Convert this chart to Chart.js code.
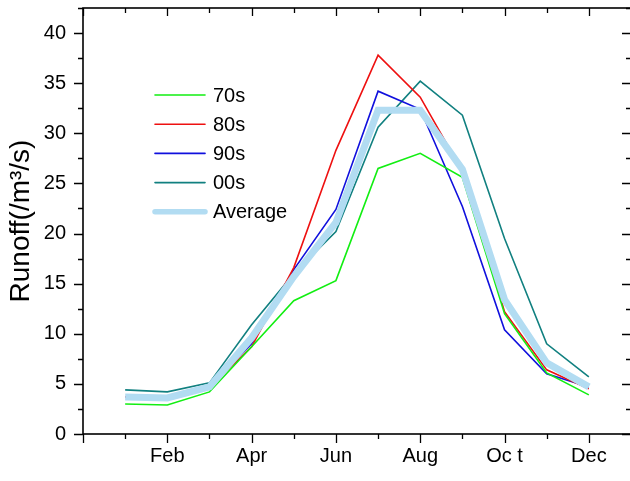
<!DOCTYPE html>
<html>
<head>
<meta charset="utf-8">
<script src="https://cdn.jsdelivr.net/npm/chart.js@4"></script>
<style>
html,body{margin:0;padding:0;overflow:hidden;background:#fff;width:630px;height:481px;}
#wrap{position:absolute;left:0;top:0;width:640px;height:481px;}
</style>
</head>
<body>
<div id="wrap"><canvas id="c" width="640" height="481"></canvas></div>
<script>
// ---- data ----
const months = ['Jan','Feb','Mar','Apr','May','Jun','Jul','Aug','Sep','Oc t','Nov','Dec'];
const monthIndex = [1,2,3,4,5,6,7,8,9,10,11,12];
const s70 = [3.0, 2.9, 4.2, 8.7, 13.3, 15.3, 26.5, 28.0, 25.6, 12.0, 6.1, 3.9];
const s80 = [3.7, 3.6, 4.6, 8.7, 16.6, 28.3, 37.8, 33.6, 26.2, 12.2, 6.4, 4.5];
const s90 = [3.7, 3.6, 4.7, 9.0, 16.4, 22.4, 34.2, 32.4, 22.7, 10.4, 6.0, 4.7];
const s00 = [4.4, 4.2, 5.1, 10.9, 16.0, 20.2, 30.6, 35.2, 31.8, 19.5, 9.0, 5.7];
const sAvg = [3.7, 3.6, 4.7, 9.6, 15.7, 21.1, 32.3, 32.3, 26.4, 13.4, 7.1, 4.7];
const yTicks = [0,5,10,15,20,25,30,35,40];

function pts(arr){ return arr.map((v,i)=>({x:monthIndex[i], y:v})); }

const FONT = '"Liberation Sans", Arial, sans-serif';

const framePlugin = {
  id:'frame',
  afterDraw(chart){
    const {ctx, chartArea:a, scales:{x,y}} = chart;
    ctx.save();
    ctx.strokeStyle='#000';
    ctx.lineWidth=1.6;
    ctx.strokeRect(a.left, a.top, a.right-a.left, a.bottom-a.top);
    ctx.lineWidth=1.3;
    ctx.beginPath();
    for(let i=0;i<=13;i++){
      const px = Math.round(x.getPixelForValue(i))+0.5;
      const L = (i%2===0)?9:5;
      const Lt = (i%2===0)?8:5;
      ctx.moveTo(px,a.bottom); ctx.lineTo(px,a.bottom+L);
      ctx.moveTo(px,a.top); ctx.lineTo(px,a.top+Lt);
    }
    for(let v=0; v<=42.5; v+=2.5){
      const py = Math.round(y.getPixelForValue(v))+0.5;
      const L = (v%5===0)?9:5;
      ctx.moveTo(a.left,py); ctx.lineTo(a.left-L,py);
      ctx.moveTo(a.right,py); ctx.lineTo(a.right-L,py);
    }
    ctx.stroke();
    // legend
    const lx = a.left+72, ly = a.top+87, rowH = 29.2;
    ctx.font = '20px '+FONT;
    ctx.textBaseline='middle';
    ctx.fillStyle='#000';
    chart.data.datasets.forEach((ds,i)=>{
      const yy = ly + i*rowH;
      ctx.strokeStyle = ds.borderColor;
      ctx.lineWidth = ds.legendWidth;
      ctx.lineCap = 'round';
      ctx.beginPath();
      ctx.moveTo(lx,yy); ctx.lineTo(lx+50,yy);
      ctx.stroke();
      ctx.fillText(ds.label, lx+58, yy+1);
    });
    ctx.restore();
  }
};

new Chart(document.getElementById('c'), {
  type:'line',
  data:{
    datasets:[
      {label:'70s', data:pts(s70), borderColor:'#12ee12', borderWidth:1.6, legendWidth:1.6, order:1},
      {label:'80s', data:pts(s80), borderColor:'#ee1010', borderWidth:1.6, legendWidth:1.6, order:1},
      {label:'90s', data:pts(s90), borderColor:'#1010dd', borderWidth:1.6, legendWidth:1.6, order:1},
      {label:'00s', data:pts(s00), borderColor:'#118080', borderWidth:1.6, legendWidth:1.6, order:1},
      {label:'Average', data:pts(sAvg), borderColor:'#b2dcf2', borderWidth:7, legendWidth:5.5, order:0}
    ]
  },
  options:{
    responsive:false,
    animation:false,
    devicePixelRatio:1,
    elements:{point:{radius:0}, line:{tension:0, borderJoinStyle:'miter'}},
    layout:{padding:{left:0,right:9,top:8,bottom:0}},
    plugins:{legend:{display:false}, tooltip:{enabled:false}},
    scales:{
      x:{
        type:'linear', min:0, max:13,
        grid:{display:false, drawTicks:false},
        border:{display:false},
        afterFit(s){ s.height = 47; s.paddingLeft = 0; s.paddingRight = 0; },
        afterBuildTicks(s){ s.ticks = Array.from({length:14},(_,i)=>({value:i})); },
        ticks:{
          autoSkip:false, maxRotation:0, padding:10,
          color:'#000', font:{family:FONT, size:20},
          callback(v){ return (v>=1 && v<=12 && v%2===0) ? months[v-1] : ''; }
        }
      },
      y:{
        type:'linear', min:0, max:42.5,
        grid:{display:false, drawTicks:false},
        border:{display:false},
        afterFit(s){ s.width = 83; s.paddingTop = 0; s.paddingBottom = 0; },
        afterBuildTicks(s){ s.ticks = yTicks.map(v=>({value:v})); },
        ticks:{
          padding:17, color:'#000', font:{family:FONT, size:20},
          callback(v){ return String(v); }
        },
        title:{display:true, text:'Runoff(/m³/s)', color:'#000', font:{family:FONT, size:28}, padding:{top:4,bottom:0}}
      }
    }
  },
  plugins:[framePlugin]
});
</script>
</body>
</html>
